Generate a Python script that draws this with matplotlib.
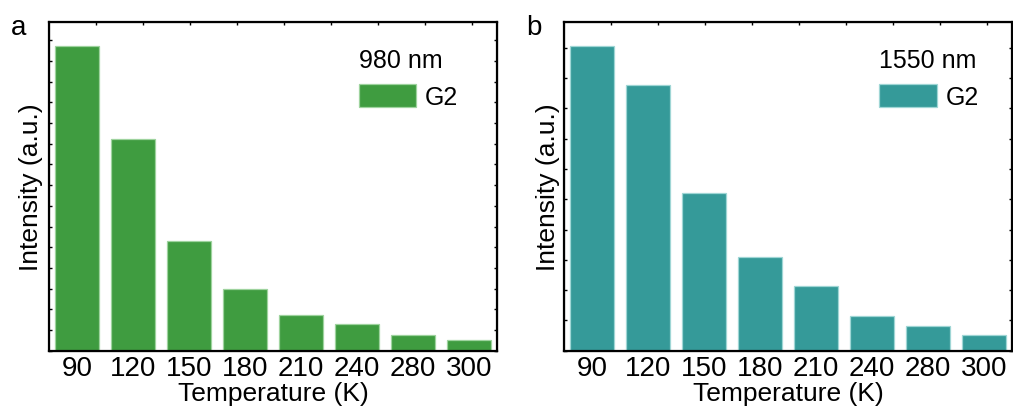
import numpy as np
import matplotlib.pyplot as plt
from matplotlib.ticker import MultipleLocator

plt.rcParams['font.family'] = ['Liberation Sans', 'DejaVu Sans']

temps = ["90", "120", "150", "180", "210", "240", "280", "300"]

# intensities (arbitrary units)
g2_980  = [1.471, 1.022, 0.529, 0.297, 0.173, 0.127, 0.075, 0.050]
g2_1550 = [1.005, 0.876, 0.520, 0.308, 0.214, 0.114, 0.080, 0.051]

green = "#3f9c40"
teal  = "#359a99"

fig = plt.figure(figsize=(10.13, 4.10), dpi=100)
ax_a = fig.add_axes([0.0484, 0.1422, 0.4423, 0.8024])
ax_b = fig.add_axes([0.5568, 0.1422, 0.4420, 0.8024])

def panel(ax, vals, color, edge, ymax, title, letter, lab_x, leg_x):
    x = np.arange(len(temps))
    ax.bar(x, vals, width=0.79, color=color, edgecolor=edge, linewidth=0.9,
           label="G2")
    ax.set_xlim(-0.5, 7.5)
    ax.set_ylim(0, ymax)
    ax.set_xticks(x)
    ax.set_xticklabels(temps, fontsize=20)
    ax.tick_params(axis='x', length=0, pad=3)
    ax.yaxis.set_major_locator(MultipleLocator(0.1))
    ax.tick_params(axis='y', direction='in', length=2.5, width=1,
                   left=True, right=True, labelleft=False)
    for s in ax.spines.values():
        s.set_linewidth(1.6)
    ax.set_xlabel("Temperature (K)", fontsize=19, labelpad=0)
    ax.set_ylabel("Intensity (a.u.)", fontsize=19)
    ax.yaxis.set_label_coords(lab_x, 0.5)
    # top spine ticks
    top = ax.twiny()
    top.set_xlim(0, 1)
    top.set_xticks(np.arange(1, 10) * 0.105)
    top.tick_params(axis='x', direction='in', length=2.5, width=1,
                    labeltop=False)
    ax.legend(loc='upper right', title=title, frameon=False,
              fontsize=18, title_fontsize=18, handlelength=2.3,
              handleheight=1.05, handletextpad=0.35,
              bbox_to_anchor=(leg_x, 0.99), alignment='left')
    ax.text(-0.085, 0.985, letter, transform=ax.transAxes, fontsize=20,
            ha='left', va='center')

panel(ax_a, g2_980, green, "#9ed39e", 1.59, "980 nm", "a", -0.013, 0.963)
panel(ax_b, g2_1550, teal, "#9fd6d5", 1.086, "1550 nm", "b", -0.009, 0.977)

fig.savefig("out.png", dpi=100)
